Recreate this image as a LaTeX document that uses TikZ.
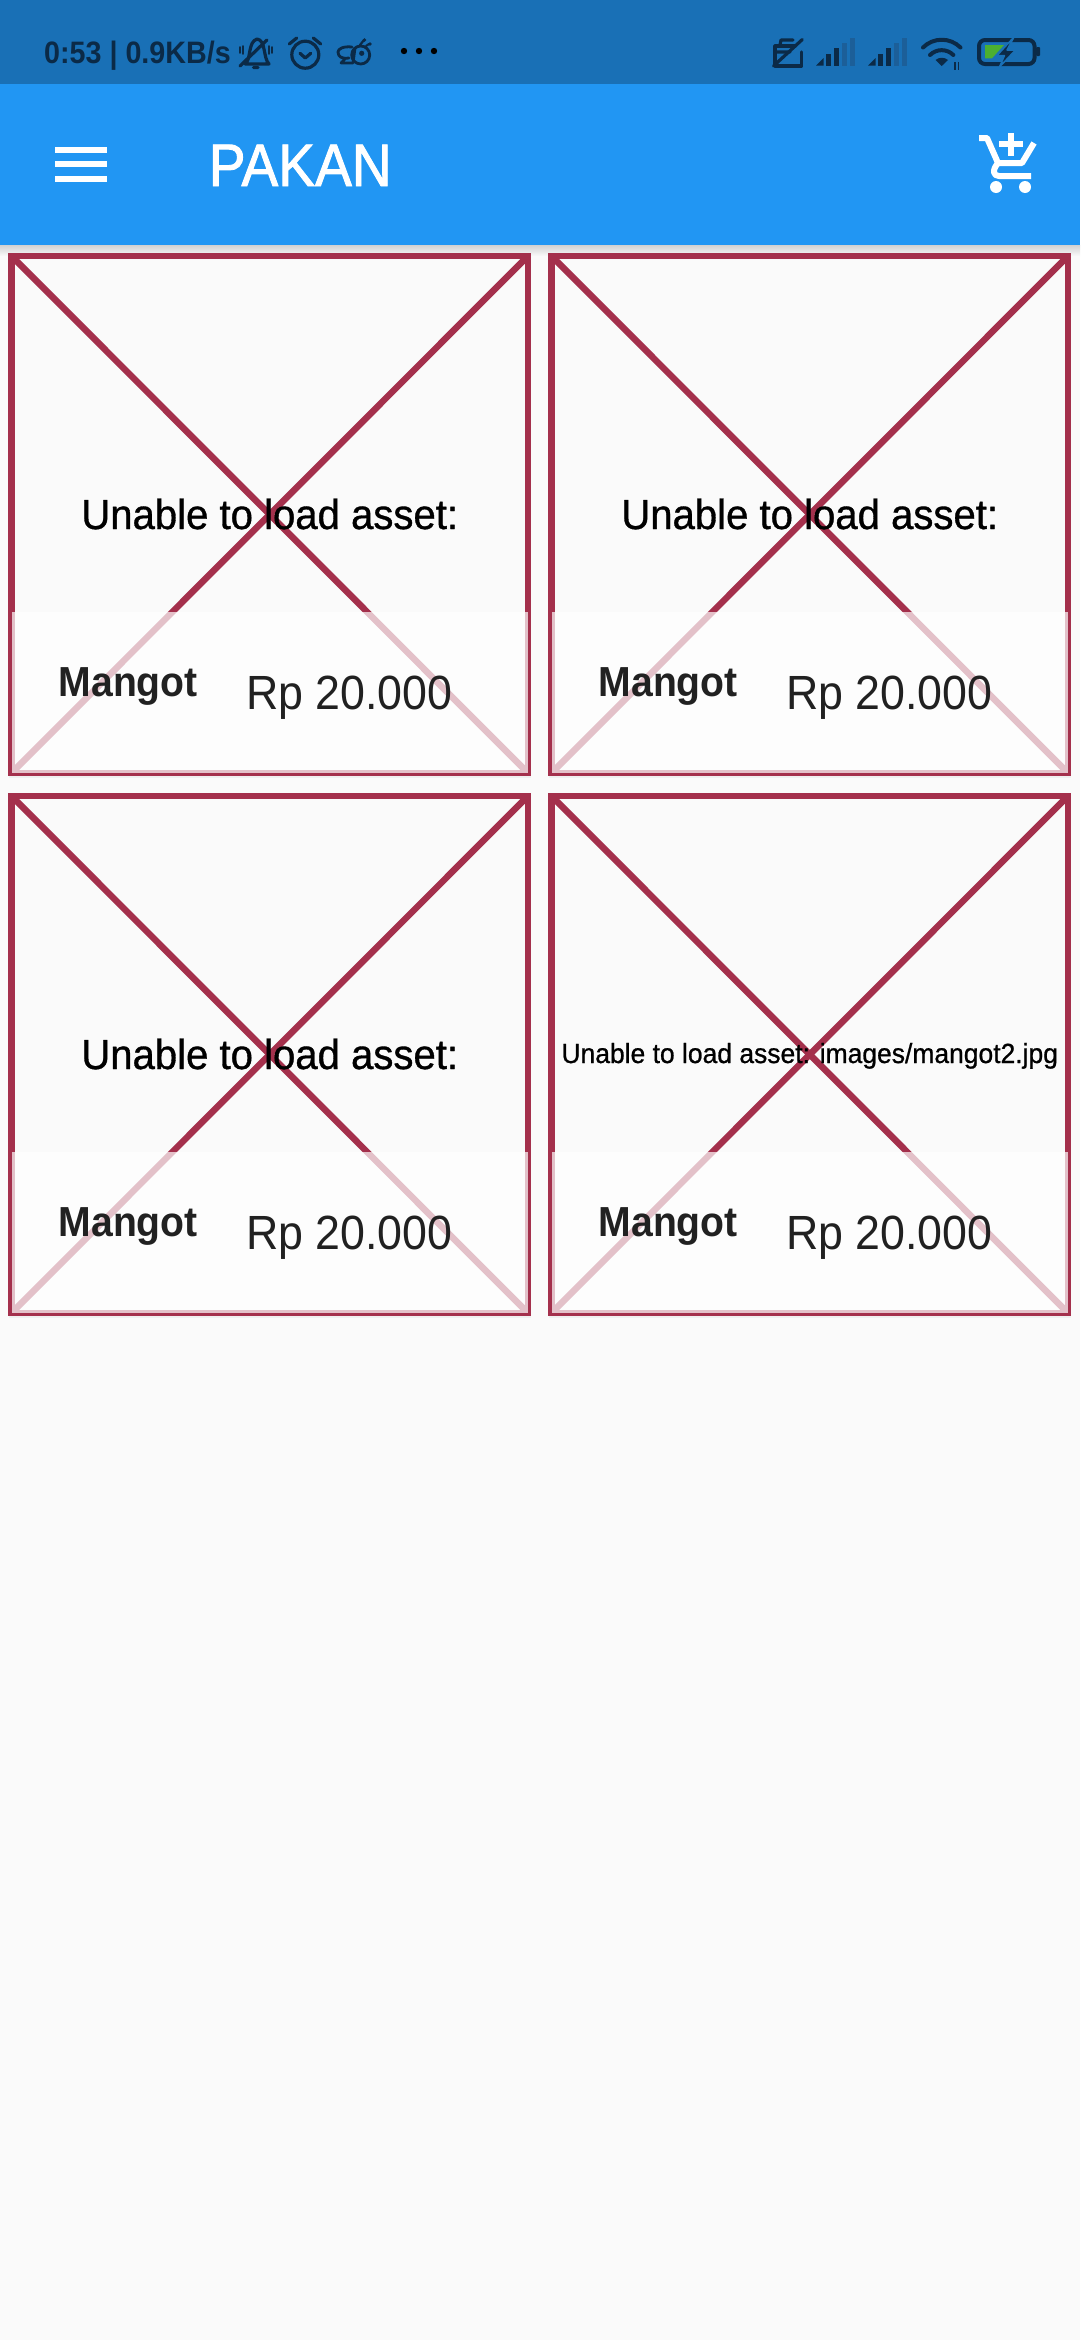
\documentclass[tikz,border=0pt]{standalone}
\usepackage{fontspec}
\usetikzlibrary{calc, positioning}
\newfontfamily\msgfont[FakeStretch=0.955, FakeBold=0.8]{Liberation Sans}
\newfontfamily\itemfont[FakeStretch=0.932]{Liberation Sans}
\newfontfamily\titlefont[FakeStretch=0.92, FakeBold=1.5]{Liberation Sans}
\newfontfamily\statusfont[FakeStretch=0.925]{Liberation Sans}
\definecolor{barcolor}{HTML}{2196F3}
\definecolor{statuscolor}{HTML}{1970B6}
\definecolor{inkcolor}{HTML}{0B2A47}
\definecolor{fadecolor}{HTML}{1C5F99}
\definecolor{crosscolor}{HTML}{A4304C}
\definecolor{pagecolor}{HTML}{FAFAFA}
\definecolor{textcolor}{HTML}{212121}
\definecolor{chargecolor}{HTML}{4CB030}

\begin{document}
\begin{tikzpicture}[x=1pt, y=-1pt,
    card/.style={rectangle, draw=crosscolor, line width=6.5pt, outer sep=0pt, minimum width=516.5pt, minimum height=517pt},
    cross/.style={crosscolor, line width=6.5pt},
    panel/.style={rectangle, fill=white, opacity=0.7, outer sep=0pt, inner sep=0pt, minimum width=516.5pt, minimum height=161pt},
    msgbig/.style={anchor=base, inner sep=0pt, text=black, font=\msgfont\fontsize{42}{50}\selectfont},
    msgsmall/.style={anchor=base, inner sep=0pt, text=black, font=\msgfont\fontsize{27.7}{33}\selectfont},
    itemname/.style={anchor=base west, inner sep=0pt, text=textcolor, font=\itemfont\bfseries\fontsize{42}{50}\selectfont},
    itemprice/.style={anchor=base west, inner sep=0pt, text=textcolor, font=\itemfont\fontsize{48}{58}\selectfont},
    icon/.style={inkcolor, line width=3.2pt, line cap=round, line join=round}]

    % Page and bars
    \useasboundingbox (0,0) rectangle (1080,2340);
    \fill[pagecolor] (0,0) rectangle (1080,2340);
    \fill[statuscolor] (0,0) rectangle (1080,84);
    \shade[top color=black!18, bottom color=pagecolor] (0,245) rectangle (1080,256);
    \fill[barcolor] (0,84) rectangle (1080,245);

    % Cards
    \foreach \i/\cx/\cy/\msgstyle/\msg in {1/269.75/514.5/msgbig/{Unable to load asset:},
        2/809.75/514.5/msgbig/{Unable to load asset:},
        3/269.75/1054.5/msgbig/{Unable to load asset:},
        4/809.75/1054.5/msgsmall/{Unable to load asset: images/mangot2.jpg}} {
      \fill[black!6] (\cx-261,\cy+258) rectangle (\cx+261,\cy+263);
      \node[card] (card\i) at (\cx,\cy) {};
      \draw[cross] (card\i.north west) -- (card\i.south east);
      \draw[cross] (card\i.north east) -- (card\i.south west);
      \node[\msgstyle] (msg\i) at ($(card\i.north)+(0,\ifnum\i=4 267\else 273\fi)$) {\msg};
      \node[panel, anchor=south] (panel\i) at (card\i.south) {};
      \node[itemname] (name\i) at ($(card\i.north west)+(47,440)$) {Mangot};
      \node[itemprice] (price\i) at ($(card\i.north west)+(234.5,453)$) {Rp 20.000};
    }

    % App bar
    \foreach \y in {150,164,179}
      \fill[white] (54.5,\y-3) rectangle (106.5,\y+3);
    \node[anchor=base west, inner sep=0pt, text=white, font=\titlefont\fontsize{60}{70}\selectfont] (title) at (208.5,186) {PAKAN};
    \draw[white, line width=6pt, line join=round] (979,138) -- (987,138) -- (998,163) -- (1022,163) -- (1034,143);
    \draw[white, line width=6pt, line join=round] (998,163) .. controls (992,170) and (993,176) .. (999,176) -- (1031,176);
    \fill[white] (996,187) circle (6) (1025,187) circle (6);
    \draw[white, line width=6pt] (1011,133) -- (1011,156) (999,144) -- (1023,144);

    % Status bar, left
    \node[anchor=base west, inner sep=0pt, text=inkcolor, font=\statusfont\bfseries\fontsize{31}{36}\selectfont] (clock) at (44,63) {0:53 | 0.9KB/s};
    \draw[icon] (246,63) .. controls (251,58) and (248,42) .. (257,39) .. controls (266,40) and (263,58) .. (269,64) -- (245,64);
    \draw[icon] (240,66) -- (267,40) (253.5,67.5) -- (258,67.5);
    \draw[icon, line width=1.8pt] (240,47) -- (240,53) (243,46) -- (243,54) (269,46) -- (269,54) (272,47) -- (272,53);
    \draw[icon] (305.3,54.7) circle (13.5);
    \draw[icon] (300,53.3) -- (305.3,58) -- (310.7,53.3);
    \draw[icon] (289.3,44) -- (296.7,38) (313.3,38) -- (320.7,44);
    \draw[icon, line width=2.8pt] (360.7,55) circle (9);
    \fill[inkcolor] (361.7,53.3) circle (2.6);
    \draw[icon, line width=2.8pt] (352,47) .. controls (343,46) and (338,49) .. (338,52) .. controls (338,57) and (342,59) .. (349,58) (341,63) -- (353,63) (341,63) -- (346,58) (355,48) -- (353,63);
    \draw[icon, line width=2.2pt] (360,45) -- (364,40) (366,46) -- (369,44);
    \fill[inkcolor] (364.5,40) circle (1.8) (370,44) circle (1.8);
    \foreach \x in {404,419,434}
      \fill[black] (\x,51) circle (3.2);

    % Status bar, right
    \draw[icon] (775,46) -- (775,66) -- (801.7,66) -- (801.7,52) (775,46) -- (795,46);
    \draw[icon] (780,45) -- (781,40) -- (793,40) (775,52) -- (790,52);
    \draw[icon] (773.5,66) -- (802.3,39.5);
    \foreach \dx in {0,52} {
      \fill[inkcolor] (\dx+816,65.5) -- (\dx+823.5,65.5) -- (\dx+823.5,58) -- cycle;
      \fill[inkcolor] (\dx+826,65.5) rectangle (\dx+831,53.5);
      \fill[inkcolor] (\dx+834,65.5) rectangle (\dx+839,48);
      \fill[fadecolor] (\dx+842,65.5) rectangle (\dx+847,42.5);
      \fill[fadecolor] (\dx+849.5,65.5) rectangle (\dx+854.5,38);
    }
    \draw[icon, line width=4pt] (923,47.5) arc[start angle=225, end angle=315, radius=26.5];
    \draw[icon, line width=4pt] (930,55) arc[start angle=225, end angle=315, radius=16.5];
    \fill[inkcolor] (941.7,66) -- (935.5,60) .. controls (939,57) and (944.5,57) .. (948,60) -- cycle;
    \draw[inkcolor, line width=1.7pt] (955,62) -- (955,70) (958.5,62) -- (958.5,70);
    \draw[inkcolor, line width=4pt, rounded corners=6pt] (979,40) rectangle (1034.5,64);
    \fill[inkcolor, rounded corners=1pt] (1036,47) rectangle (1040,56);
    \fill[chargecolor] (985,45) -- (1004,45) -- (992,58.3) -- (985,58.3) -- cycle;
    \draw[statuscolor, fill=inkcolor, line width=1.5pt, line join=round] (1014,37) -- (997,55.5) -- (1004.5,55.5) -- (999.5,67) -- (1015.5,50) -- (1007,50) -- cycle;
\end{tikzpicture}
\end{document}
